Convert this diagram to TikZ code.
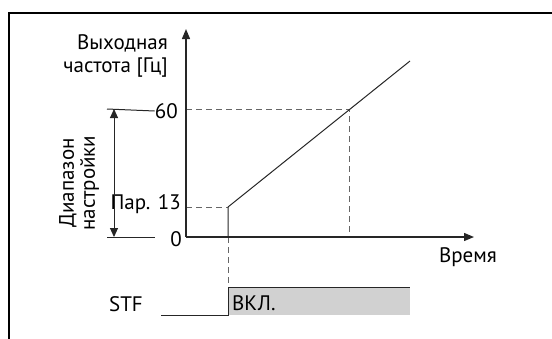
\documentclass[tikz,border=0pt]{standalone}
\usepackage{fontspec}
\setmainfont{PT Sans}
\usetikzlibrary{arrows.meta}
\begin{document}
\begin{tikzpicture}[x=1pt,y=-1pt,
  lbl/.style={inner sep=0pt,font=\fontsize{21}{25}\selectfont},
  axis/.style={line width=1.3pt,draw=black!85},
  thinline/.style={line width=1pt,draw=black!85},
  dashline/.style={line width=0.9pt,draw=black!60,dash pattern=on 6pt off 4pt},
  tipend/.style={-{Triangle[length=10pt,width=8pt]}},
  frameline/.style={line width=2.8pt,draw=black}]
\useasboundingbox (0,0) rectangle (552,338);
% frame
\draw[frameline] (9,340) -- (9,13) -- (554,13);
% coordinates
\coordinate (O) at (186,237);
\coordinate (Ytop) at (186,29);
\coordinate (Xend) at (474,237);
\coordinate (Y60) at (186,109);
\coordinate (Y13) at (186,207);
\coordinate (R0) at (228,237);
\coordinate (R13) at (228,207);
\coordinate (Rend) at (410,61);
\coordinate (C60) at (349,109);
\coordinate (C0) at (349,237);
\coordinate (Atop) at (114,109);
\coordinate (Abot) at (114,237);
\coordinate (T60) at (107,109);
\coordinate (T0a) at (107,237);
\coordinate (T0b) at (155,237);
\coordinate (Slow) at (161,315);
\coordinate (Srise) at (228,315);
\coordinate (Shigh) at (228,287);
\coordinate (Send) at (410,287);
% gray on-region
\fill[black!18] (Shigh) rectangle (410,315);
% labels
\node[lbl,anchor=east,align=right] (ylab) at (168,56) {Выходная\\[-2pt]частота [Гц]};
\node[lbl,anchor=east] (n60) at (178,111) {60};
\node[lbl,anchor=east] (n0) at (182,239) {0};
\node[lbl,anchor=east] (n13) at (181,204) {Пар. 13};
\node[lbl] (time) at (468,257) {Время};
\node[lbl] (stf) at (126,304) {STF};
\node[lbl,anchor=west] (on) at (232,303) {ВКЛ.};
\node[lbl,rotate=90,align=center] (range) at (79,183) {Диапазон\\[-4pt]настройки};
% dashed helper lines
\draw[dashline] (Y60) -- (C60) -- (C0);
\draw[dashline] (Y13) -- (R13);
\draw[dashline] (R0) -- (Shigh);
% axes
\draw[axis,tipend] (O) -- (Ytop);
\draw[axis,tipend] (O) -- (Xend);
% range
\draw[thinline] (T60) -- (n60.west);
\draw[thinline] (T0a) -- (T0b);
\draw[thinline,{Triangle[length=9pt,width=8pt]}-{Triangle[length=9pt,width=8pt]}] (Atop) -- (Abot);
% ramp
\draw[thinline,line join=miter] (R0) -- (R13) -- (Rend);
% STF signal
\draw[thinline] (Slow) -- (Srise) -- (Shigh) -- (Send);
\end{tikzpicture}
\end{document}
